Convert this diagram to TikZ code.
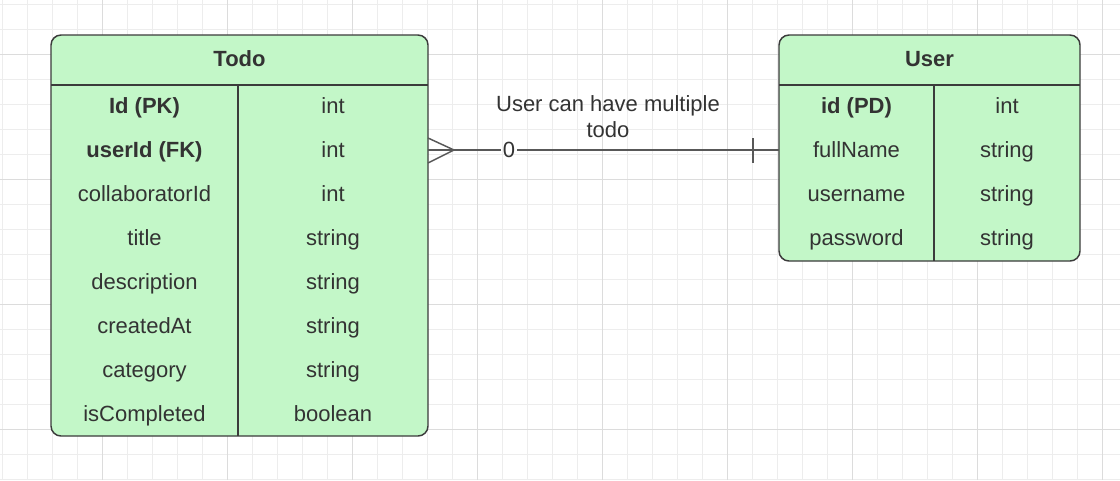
\documentclass[tikz,border=0pt]{standalone}
\usepackage{fontspec}
\setmainfont{Liberation Sans}
\usetikzlibrary{calc}

\definecolor{erfill}{HTML}{C3F7C8}
\definecolor{erline}{HTML}{3B3B3B}
\definecolor{ertext}{HTML}{333333}
\definecolor{gridminor}{HTML}{EDEDED}
\definecolor{gridmajor}{HTML}{DCDCDC}

\tikzset{
	erbox/.style={draw=erline, line width=1.1pt, fill=erfill, rounded corners=7.5pt},
	erdiv/.style={draw=erline, line width=1.1pt},
	cell/.style={text=ertext, font=\fontsize{16.5}{19.5}\selectfont, text height=13.5pt, text depth=3.5pt, inner sep=0pt},
	keycell/.style={cell, font=\fontsize{16.5}{19.5}\selectfont\bfseries},
	relation/.style={draw=erline!85, line width=1.1pt},
}

\begin{document}
\begin{tikzpicture}[x=0.75pt, y=-0.75pt]
		\useasboundingbox (0,0) rectangle (1120,480);
		\fill[white] (0,0) rectangle (1120,480);
		
		% background grid
		\foreach \gx in {2,27,...,1102} \draw[gridminor, line width=0.75pt] (\gx,0) -- (\gx,480);
		\foreach \gy in {4,29,...,479} \draw[gridminor, line width=0.75pt] (0,\gy) -- (1120,\gy);
		\foreach \gx in {102,227,...,1102} \draw[gridmajor, line width=0.75pt] (\gx,0) -- (\gx,480);
		\foreach \gy in {54,179,...,429} \draw[gridmajor, line width=0.75pt] (0,\gy) -- (1120,\gy);
		
		% Todo table
		\draw[erbox] (51,35) rectangle (428,436);
		\draw[erdiv] (51,85) -- (428,85);
		\draw[erdiv] (238,85) -- (238,436);
		\node[keycell] (todo) at (239.5,60) {Todo};
		\node[keycell] (todoId) at (144.5,107) {Id (PK)};
		\node[cell] (todoIdType) at (333,107) {int};
		\node[keycell] (todoUserId) at (144.5,151) {userId (FK)};
		\node[cell] (todoUserIdType) at (333,151) {int};
		\foreach \f/\t [count=\i from 2] in {collaboratorId/int, title/string, description/string, createdAt/string, category/string, isCompleted/boolean} {
			\node[cell] (todo-\i) at (144.5,107+44*\i) {\f};
			\node[cell] (todoType-\i) at (333,107+44*\i) {\t};
		}
		
		% User table
		\draw[erbox] (779,35) rectangle (1080,261);
		\draw[erdiv] (779,85) -- (1080,85);
		\draw[erdiv] (934,85) -- (934,261);
		\node[keycell] (user) at (929.5,60) {User};
		\node[keycell] (userId) at (856.5,107) {id (PD)};
		\node[cell] (userIdType) at (1007,107) {int};
		\foreach \f/\t [count=\i] in {fullName/string, username/string, password/string} {
			\node[cell] (user-\i) at (856.5,107+44*\i) {\f};
			\node[cell] (userType-\i) at (1007,107+44*\i) {\t};
		}
		
		% relation: many (zero or more) todos to one user
		\coordinate (todoFK) at (428,150);
		\coordinate (userPK) at (779,150);
		\coordinate (crow) at (454,150);
		\node[text=ertext, font=\fontsize{16.5}{19.5}\selectfont, inner sep=1.5pt] (zero) at (509,150) {0};
		\draw[relation] (todoFK) -- (zero.west);
		\draw[relation] (zero.east) -- (userPK);
		\draw[relation] ($(todoFK)+(0,-12)$) -- (crow) -- ($(todoFK)+(0,13)$);
		\draw[relation] ($(userPK)+(-26,-12)$) -- ($(userPK)+(-26,13)$);
		\node[text=ertext, font=\fontsize{16.5}{19.5}\selectfont, align=center, inner sep=0pt] (relLabel) at (608,117) {User can have multiple\\todo};
	\end{tikzpicture}
\end{document}
